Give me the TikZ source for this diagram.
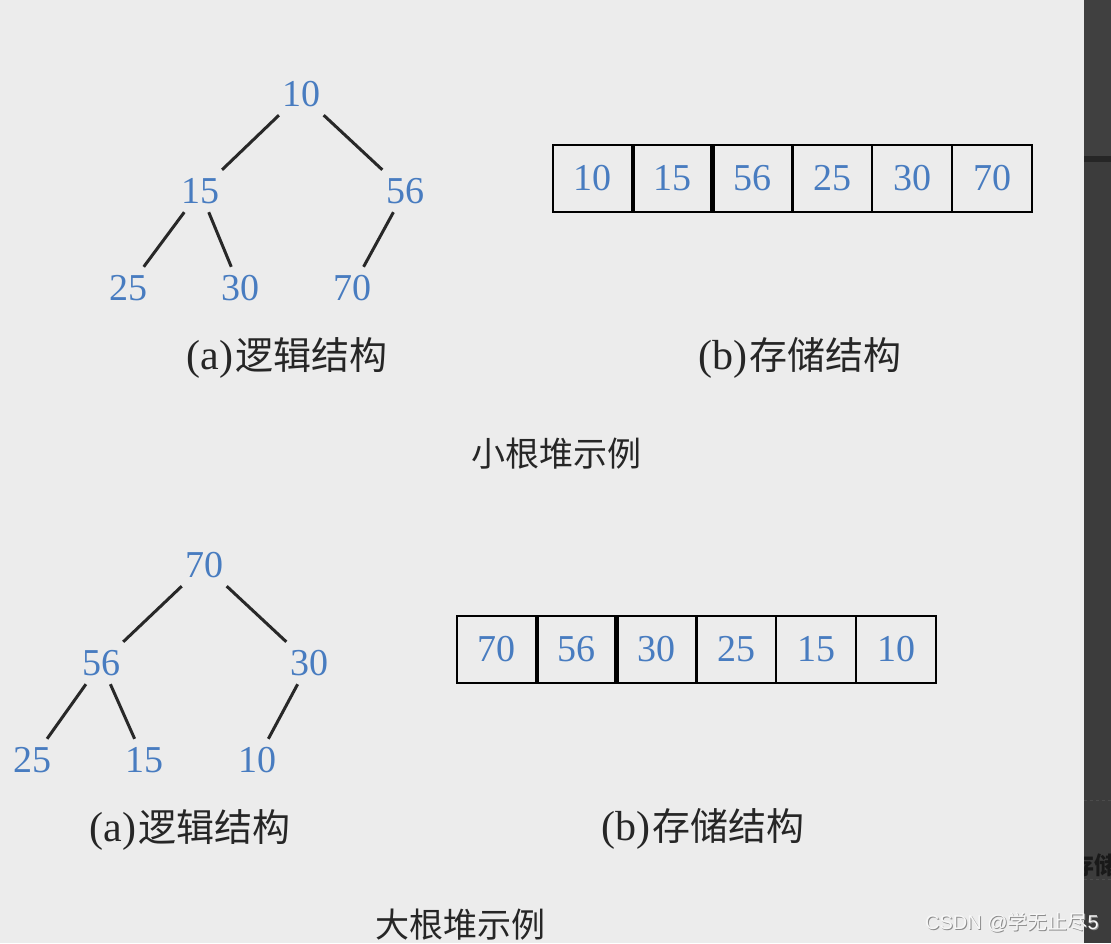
\documentclass[tikz,border=0pt]{standalone}
\usepackage{fontspec}
\setmainfont{Liberation Serif}
\newfontfamily\cjk{Noto Sans CJK SC}
\newfontfamily\wm{Liberation Sans}
\definecolor{bg}{RGB}{236,236,236}
\definecolor{strip}{RGB}{60,60,60}
\definecolor{striptop}{RGB}{64,64,64}
\definecolor{numblue}{RGB}{72,124,192}
\definecolor{edgecol}{RGB}{40,40,40}
\definecolor{labcol}{RGB}{38,38,38}
\tikzset{
  num/.style={text=numblue, font=\fontsize{38}{40}\selectfont, inner sep=0pt,
    minimum height=42pt, minimum width=50pt},
  tedge/.style={line width=3pt, draw=edgecol},
  cell/.style={draw=black, line width=2pt, minimum width=79.83pt, minimum height=67pt,
    inner sep=0pt, outer sep=0pt, text=numblue, font=\fontsize{38}{40}\selectfont},
  sepline/.style={line width=4.5pt, draw=black},
  lab/.style={text=labcol, inner sep=0pt},
  captext/.style={text=labcol, inner sep=0pt, font=\cjk\fontsize{34}{36}\selectfont},
}
\newcommand{\lbl}[2]{{\fontsize{42}{44}\selectfont(#1)}\kern2pt{\cjk\fontsize{38}{40}\selectfont #2}}
\newcommand{\dn}[1]{\raisebox{-3pt}{#1}}
\begin{document}
\begin{tikzpicture}[x=1pt,y=-1pt]
\useasboundingbox (0,0) rectangle (1111,943);
\fill[bg] (0,0) rectangle (1111,943);
% right dark strip
\fill[strip] (1084,0) rectangle (1111,943);
\fill[striptop] (1084,0) rectangle (1111,156);
\fill[black!85] (1084,156) rectangle (1111,162);
\draw[gray!60!black, line width=0.6pt, dashed] (1084,800) -- (1111,800);
\begin{scope}
\clip (1084,840) rectangle (1111,890);
\node[anchor=west, inner sep=0pt, text=black!90, font=\cjk\bfseries\fontsize{24}{26}\selectfont] (part) at (1070,865) {存储};
\draw[black!70, line width=0.8pt, dashed] (1084,879) -- (1111,879);
\end{scope}

% ---- small root heap: tree ----
\node[num] (t10) at (301,94) {10};
\node[num] (t15) at (200,191) {15};
\node[num] (t56) at (405,191) {56};
\node[num] (t25) at (128,288) {25};
\node[num] (t30) at (240,288) {30};
\node[num] (t70) at (352,288) {70};
\draw[tedge] (t10) -- (t15);
\draw[tedge] (t10) -- (t56);
\draw[tedge] (t15) -- (t25);
\draw[tedge] (t15) -- (t30);
\draw[tedge] (t56) -- (t70);
\node[lab] (la1) at (287,358) {\lbl{a}{逻辑结构}};

% ---- small root heap: array ----
\node[cell] (a1) at (592.9,178.5) {\dn{10}};
\node[cell] (a2) at (672.8,178.5) {\dn{15}};
\node[cell] (a3) at (752.6,178.5) {\dn{56}};
\node[cell] (a4) at (832.4,178.5) {\dn{25}};
\node[cell] (a5) at (912.2,178.5) {\dn{30}};
\node[cell] (a6) at (992.1,178.5) {\dn{70}};
\draw[sepline] (a1.north east) -- (a1.south east);
\draw[sepline] (a2.north east) -- (a2.south east);
\node[lab] (lb1) at (800,358) {\lbl{b}{存储结构}};
\node[captext] (cap1) at (556,454) {小根堆示例};

% ---- big root heap: tree ----
\node[num] (u70) at (204,565) {70};
\node[num] (u56) at (101,663) {56};
\node[num] (u30) at (309,663) {30};
\node[num] (u25) at (32,760) {25};
\node[num] (u15) at (144,760) {15};
\node[num] (u10) at (257,760) {10};
\draw[tedge] (u70) -- (u56);
\draw[tedge] (u70) -- (u30);
\draw[tedge] (u56) -- (u25);
\draw[tedge] (u56) -- (u15);
\draw[tedge] (u30) -- (u10);
\node[lab] (la2) at (190,830) {\lbl{a}{逻辑结构}};

% ---- big root heap: array ----
\node[cell] (b1) at (496.9,649) {\dn{70}};
\node[cell] (b2) at (576.8,649) {\dn{56}};
\node[cell] (b3) at (656.6,649) {\dn{30}};
\node[cell] (b4) at (736.4,649) {\dn{25}};
\node[cell] (b5) at (816.2,649) {\dn{15}};
\node[cell] (b6) at (896.1,649) {\dn{10}};
\draw[sepline] (b1.north east) -- (b1.south east);
\draw[sepline] (b2.north east) -- (b2.south east);
\node[lab] (lb2) at (703,829) {\lbl{b}{存储结构}};
\node[captext] (cap2) at (460,925) {大根堆示例};

% ---- watermark ----
\node[anchor=west, inner sep=0pt, text=black!45, font=\wm\fontsize{20}{22}\selectfont] (wms) at (926,923) {CSDN @\cjk 学无止尽\wm 5};
\node[anchor=west, inner sep=0pt, text=white!97!black, font=\wm\fontsize{20}{22}\selectfont] (wm) at (925,922) {CSDN @\cjk 学无止尽\wm 5};
\end{tikzpicture}
\end{document}
